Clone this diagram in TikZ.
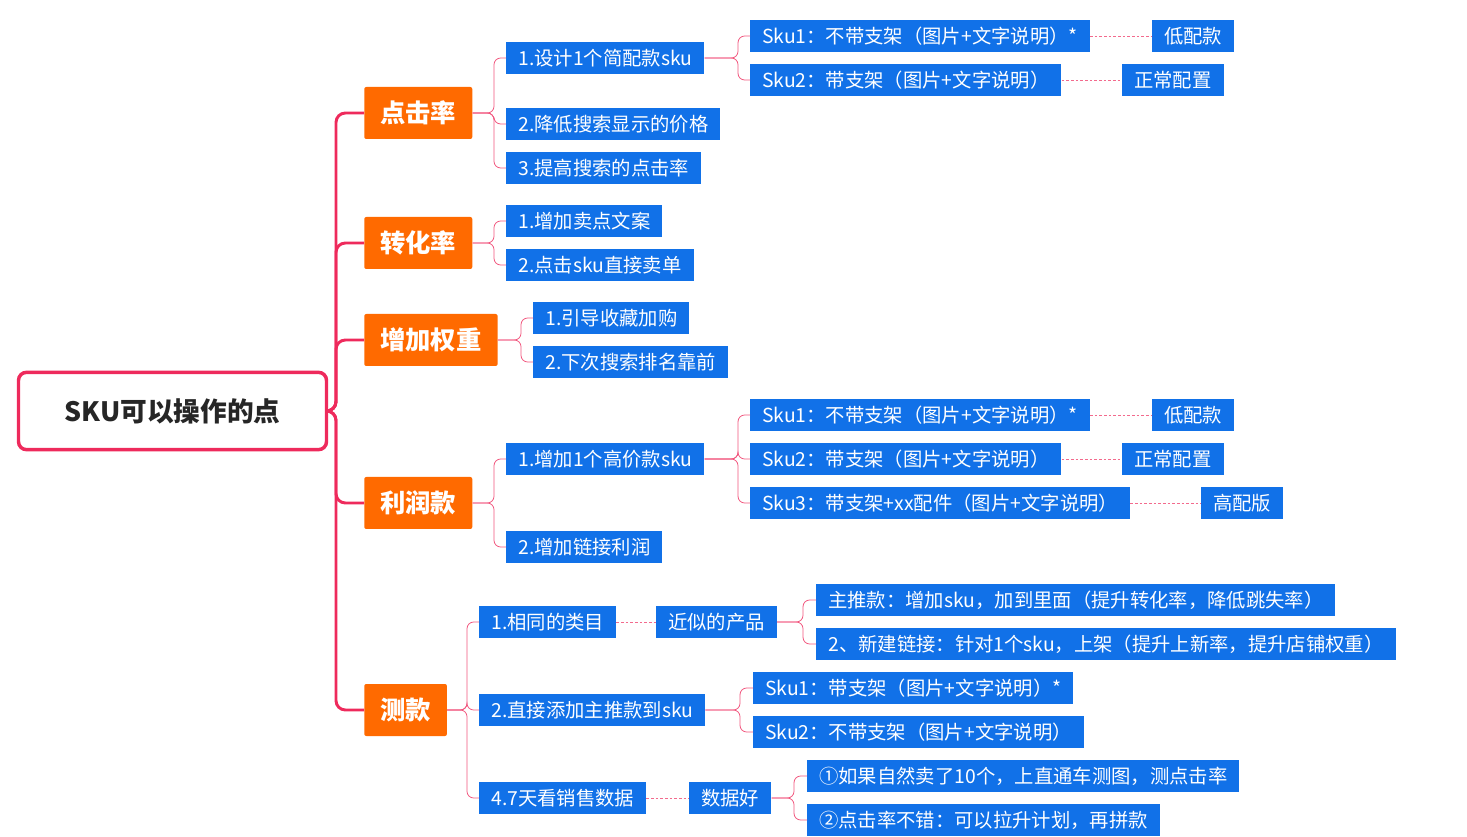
\documentclass[tikz,border=0pt]{standalone}
\usepackage{fontspec}
\setmainfont{Noto Sans CJK SC}
\begin{document}
\begin{tikzpicture}[x=0.75pt,y=-0.75pt,
 bb/.style={fill=bblue,text=white,anchor=west,minimum height=24pt,inner xsep=9pt,inner ysep=0pt,font=\fontsize{14.5}{16}\selectfont},
 ob/.style={fill=oorange,text=white,anchor=west,minimum height=39pt,inner xsep=12pt,rounded corners=1.5pt,font=\fontsize{19}{22}\selectfont\bfseries},
 rl/.style={draw=rred,line width=2.2pt,rounded corners=7pt},
 cl/.style={draw=rred!80,line width=0.6pt,rounded corners=5pt},
 dl/.style={draw=rred!70,line width=0.6pt,dash pattern=on 2pt off 1.5pt}]
\definecolor{bblue}{HTML}{1171E8}
\definecolor{oorange}{HTML}{FF6A00}
\definecolor{rred}{HTML}{EE2A5C}
\useasboundingbox (0,0) rectangle (1467,837);
\node[draw=rred,line width=2.6pt,rounded corners=6pt,minimum width=231pt,minimum height=58pt,font=\fontsize{20}{24}\selectfont\bfseries,text=black!85] (root) at (172.5,411) {SKU可以操作的点};
% orange
\node[ob] (o1) at (364,113) {点击率};
\node[ob] (o2) at (364,243) {转化率};
\node[ob] (o3) at (364,340) {增加权重};
\node[ob] (o4) at (364,503) {利润款};
\node[ob] (o5) at (364,710) {测款};
\foreach \o in {o1,o2,o3,o4,o5} \draw[rl] (root.east) -- (336,411) |- (\o.west);
% level2
\node[bb] (a1) at (506,58) {1.设计1个简配款sku};
\node[bb] (a2) at (506,124) {2.降低搜索显示的价格};
\node[bb] (a3) at (506,168) {3.提高搜索的点击率};
\node[bb] (b1) at (506,221) {1.增加卖点文案};
\node[bb] (b2) at (506,265) {2.点击sku直接卖单};
\node[bb] (c1) at (533,318) {1.引导收藏加购};
\node[bb] (c2) at (533,362) {2.下次搜索排名靠前};
\node[bb] (d1) at (506,459) {1.增加1个高价款sku};
\node[bb] (d2) at (506,547) {2.增加链接利润};
\node[bb] (e1) at (479,622) {1.相同的类目};
\node[bb] (e2) at (479,710) {2.直接添加主推款到sku};
\node[bb] (e3) at (479,798) {4.7天看销售数据};
\foreach \c in {a1,a2,a3} \draw[cl] (o1.east) -- (494,113) |- (\c.west);
\foreach \c in {b1,b2} \draw[cl] (o2.east) -- (494,243) |- (\c.west);
\foreach \c in {c1,c2} \draw[cl] (o3.east) -- (521,340) |- (\c.west);
\foreach \c in {d1,d2} \draw[cl] (o4.east) -- (494,503) |- (\c.west);
\foreach \c in {e1,e2,e3} \draw[cl] (o5.east) -- (467,710) |- (\c.west);
% level3
\node[bb] (s1) at (750,36) {Sku1：不带支架（图片+文字说明）*};
\node[bb] (s2) at (750,80) {Sku2：带支架（图片+文字说明）};
\node[bb] (s1c) at (1152,36) {低配款};
\node[bb] (s2c) at (1122,80) {正常配置};
\foreach \c in {s1,s2} \draw[cl] (a1.east) -- (738,58) |- (\c.west);
\draw[dl] (s1.east) -- (s1c.west); \draw[dl] (s2.east) -- (s2c.west);
\node[bb] (t1) at (750,415) {Sku1：不带支架（图片+文字说明）*};
\node[bb] (t2) at (750,459) {Sku2：带支架（图片+文字说明）};
\node[bb] (t3) at (750,503) {Sku3：带支架+xx配件（图片+文字说明）};
\node[bb] (t1c) at (1152,415) {低配款};
\node[bb] (t2c) at (1122,459) {正常配置};
\node[bb] (t3c) at (1201,503) {高配版};
\foreach \c in {t1,t2,t3} \draw[cl] (d1.east) -- (738,459) |- (\c.west);
\draw[dl] (t1.east) -- (t1c.west); \draw[dl] (t2.east) -- (t2c.west); \draw[dl] (t3.east) -- (t3c.west);
\node[bb] (n1) at (656,622) {近似的产品};
\draw[dl] (e1.east) -- (n1.west);
\node[bb] (n2) at (816,600) {主推款：增加sku，加到里面（提升转化率，降低跳失率）};
\node[bb] (n3) at (816,644) {2、新建链接：针对1个sku，上架（提升上新率，提升店铺权重）};
\foreach \c in {n2,n3} \draw[cl] (n1.east) -- (803,622) |- (\c.west);
\node[bb] (u1) at (753,688) {Sku1：带支架（图片+文字说明）*};
\node[bb] (u2) at (753,732) {Sku2：不带支架（图片+文字说明）};
\foreach \c in {u1,u2} \draw[cl] (e2.east) -- (740,710) |- (\c.west);
\node[bb] (g) at (689,798) {数据好};
\draw[dl] (e3.east) -- (g.west);
\node[bb] (g1) at (807,776) {①如果自然卖了10个，上直通车测图，测点击率};
\node[bb] (g2) at (807,820) {②点击率不错：可以拉升计划，再拼款};
\foreach \c in {g1,g2} \draw[cl] (g.east) -- (794,798) |- (\c.west);
\end{tikzpicture}
\end{document}
